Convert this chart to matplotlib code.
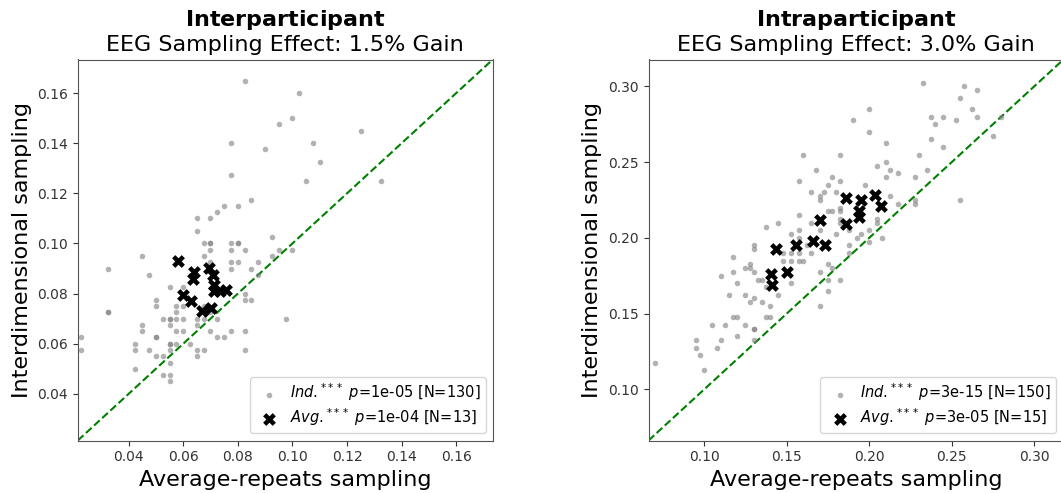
import numpy as np
import matplotlib
matplotlib.use("Agg")
import matplotlib.pyplot as plt

# ---- Interparticipant: individual points (avg-repeats x, interdimensional y)
inter_ind_x = [0.0825, 0.1025, 0.1, 0.095, 0.0775, 0.1075, 0.09, 0.11, 0.125, 0.0775, 0.105, 0.1325,
               0.075, 0.08, 0.085, 0.0725, 0.065, 0.07, 0.065, 0.0925,
               0.0675, 0.07, 0.07, 0.0775, 0.08, 0.08,
               0.07, 0.0775, 0.0825, 0.095, 0.1,
               0.045, 0.0675, 0.0925,
               0.07, 0.0775, 0.08, 0.0875,
               0.0325, 0.0775, 0.085,
               0.0475, 0.0875,
               0.055, 0.06,
               0.0825,
               0.05, 0.0825, 0.085,
               0.05, 0.0575, 0.06, 0.0675,
               0.0325, 0.0325, 0.0575, 0.07,
               0.0975, 0.0525, 0.055, 0.055, 0.0575, 0.06, 0.065, 0.0675, 0.0725,
               0.045, 0.055, 0.065,
               0.045, 0.0575, 0.06, 0.07, 0.0775, 0.0825,
               0.0225, 0.05, 0.05, 0.0725, 0.075,
               0.0425, 0.055, 0.055, 0.0575, 0.0625,
               0.0225, 0.0425, 0.0475, 0.055, 0.065, 0.0675, 0.0825,
               0.05, 0.0525, 0.065,
               0.055,
               0.0425,
               0.0525, 0.055,
               0.055]
inter_ind_y = [0.165, 0.16, 0.15, 0.1475, 0.14, 0.14, 0.1375, 0.1325, 0.145, 0.1275, 0.125, 0.125,
               0.115, 0.115, 0.1175, 0.1125, 0.11, 0.11, 0.105, 0.1025,
               0.1, 0.1, 0.1, 0.1, 0.1, 0.1,
               0.0975, 0.0975, 0.0975, 0.0975, 0.0975,
               0.095, 0.095, 0.095,
               0.0925, 0.0925, 0.0925, 0.0925,
               0.09, 0.09, 0.09,
               0.0875, 0.0875,
               0.0825, 0.0825,
               0.08,
               0.0775, 0.0775, 0.0775,
               0.075, 0.075, 0.075, 0.075,
               0.0725, 0.0725, 0.0725, 0.0725,
               0.07, 0.07, 0.07, 0.07, 0.07, 0.07, 0.07, 0.07, 0.07,
               0.0675, 0.0675, 0.0675,
               0.065, 0.065, 0.065, 0.065, 0.065, 0.065,
               0.0625, 0.0625, 0.0625, 0.0625, 0.0625,
               0.06, 0.06, 0.06, 0.06, 0.06,
               0.0575, 0.0575, 0.0575, 0.0575, 0.0575, 0.0575, 0.0575,
               0.055, 0.055, 0.055,
               0.0525,
               0.05,
               0.0475, 0.0475,
               0.045]
inter_avg_x = [0.0581, 0.0639, 0.0636, 0.0694, 0.0708, 0.0712, 0.0714, 0.0734, 0.0758, 0.0599, 0.063, 0.0669, 0.0703]
inter_avg_y = [0.0929, 0.0887, 0.086, 0.0903, 0.0876, 0.0836, 0.081, 0.081, 0.0816, 0.0796, 0.0772, 0.073, 0.0743]

# ---- Intraparticipant
intra_ind_x = [0.2325, 0.2575, 0.265, 0.255, 0.2, 0.2625, 0.19, 0.2375, 0.245, 0.24, 0.2525, 0.265, 0.28,
               0.2, 0.2375, 0.245, 0.275, 0.21, 0.16, 0.1825, 0.23, 0.1675, 0.21, 0.205, 0.2125, 0.2175,
               0.235, 0.1575, 0.1775, 0.1825, 0.21, 0.2275, 0.175, 0.1975, 0.165, 0.17, 0.17, 0.1725,
               0.18, 0.2125, 0.2175, 0.2275, 0.2275, 0.255, 0.1575, 0.175, 0.1775, 0.205,
               0.1825, 0.1825, 0.1825, 0.1825, 0.1375, 0.145, 0.165, 0.1575, 0.1525, 0.1575, 0.1875,
               0.18, 0.17, 0.1925, 0.195, 0.2, 0.2, 0.205, 0.2075, 0.1875, 0.1875, 0.1625,
               0.13, 0.13, 0.1475, 0.1525, 0.1575, 0.165, 0.16, 0.1575, 0.1525, 0.1475, 0.1175, 0.11,
               0.1175, 0.125, 0.1275, 0.1275, 0.13, 0.12, 0.115, 0.125, 0.1275, 0.13, 0.135, 0.1325,
               0.135, 0.1375, 0.14, 0.1375, 0.14, 0.145, 0.1525, 0.13, 0.13, 0.13, 0.1175, 0.12, 0.125,
               0.105, 0.1125, 0.12, 0.11, 0.1075, 0.095, 0.095, 0.0975, 0.1, 0.07,
               0.17, 0.175, 0.175, 0.17, 0.1825, 0.175, 0.1775]
intra_ind_y = [0.3025, 0.3, 0.2975, 0.2925, 0.285, 0.285, 0.2775, 0.28, 0.28, 0.275, 0.2775, 0.28, 0.28,
               0.27, 0.265, 0.26, 0.2675, 0.2625, 0.255, 0.255, 0.255, 0.245, 0.25, 0.2475, 0.245, 0.2425,
               0.245, 0.2375, 0.24, 0.2375, 0.24, 0.24, 0.235, 0.235, 0.23, 0.2275, 0.225, 0.23,
               0.23, 0.2275, 0.2225, 0.225, 0.2225, 0.225, 0.215, 0.2175, 0.2175, 0.2125,
               0.22, 0.2175, 0.2125, 0.21, 0.2075, 0.21, 0.21, 0.205, 0.2025, 0.2, 0.205,
               0.2025, 0.205, 0.2, 0.2025, 0.205, 0.1975, 0.21, 0.2, 0.195, 0.19, 0.195,
               0.195, 0.1925, 0.19, 0.19, 0.19, 0.19, 0.185, 0.185, 0.185, 0.185, 0.1875, 0.175,
               0.1775, 0.18, 0.18, 0.1825, 0.1775, 0.17, 0.1625, 0.1625, 0.1575, 0.16, 0.1575, 0.1725,
               0.1725, 0.1675, 0.155, 0.1475, 0.1475, 0.1625, 0.17, 0.14, 0.14, 0.1325, 0.1475, 0.1475, 0.1425,
               0.1425, 0.1425, 0.135, 0.1325, 0.1275, 0.1325, 0.1275, 0.1225, 0.1125, 0.1175,
               0.1775, 0.1725, 0.165, 0.155, 0.1725, 0.1825, 0.18]
intra_avg_x = [0.1858, 0.1949, 0.2033, 0.2074, 0.1938, 0.1938, 0.1704, 0.1858, 0.166, 0.173,
               0.1434, 0.1559, 0.1403, 0.1414, 0.1502]
intra_avg_y = [0.226, 0.2249, 0.2286, 0.2212, 0.2176, 0.2139, 0.2117, 0.2094, 0.1977, 0.1951,
               0.1928, 0.1955, 0.1763, 0.169, 0.1774]

panels = [
    ("Interparticipant", "1.5", inter_ind_x, inter_ind_y, inter_avg_x, inter_avg_y,
     "1e-05", 130, "1e-04", 13, (0.0214, 0.1734), [0.04, 0.06, 0.08, 0.10, 0.12, 0.14, 0.16]),
    ("Intraparticipant", "3.0", intra_ind_x, intra_ind_y, intra_avg_x, intra_avg_y,
     "3e-15", 150, "3e-05", 15, (0.0663, 0.3177), [0.10, 0.15, 0.20, 0.25, 0.30]),
]

fig = plt.figure(figsize=(10.61, 4.93), dpi=100)
lefts = [77.8 / 1061, 648.5 / 1061]

for left, (name, gain, ix, iy, ax_, ay_, p_ind, n_ind, p_avg, n_avg, lims, ticks) in zip(lefts, panels):
    ax = fig.add_axes([left, 52.5 / 493, 415.0 / 1061, 381.0 / 493])
    ax.plot(lims, lims, "g--", lw=1.5, zorder=1)
    ax.scatter(ix, iy, s=16, color="gray", alpha=0.6, linewidths=0, zorder=2,
               label=r"$\it{Ind.}^{***}$ $\it{p}$=%s [N=%d]" % (p_ind, n_ind))
    ax.scatter(ax_, ay_, s=85, color="black", marker="X", linewidths=0, zorder=3,
               label=r"$\it{Avg.}^{***}$ $\it{p}$=%s [N=%d]" % (p_avg, n_avg))
    ax.set_xlim(lims)
    ax.set_ylim(lims)
    ax.set_xticks(ticks)
    ax.set_yticks(ticks)
    ax.set_xticklabels(["%.2f" % t for t in ticks])
    ax.set_yticklabels(["%.2f" % t for t in ticks])
    ax.tick_params(labelsize=10, colors="#333333")
    for sp in ax.spines.values():
        sp.set_color("#555555")
    ax.set_xlabel("Average-repeats sampling", fontsize=16)
    ax.set_ylabel("Interdimensional sampling", fontsize=16)
    ax.set_title(r"$\bf{%s}$" % name + "\nEEG Sampling Effect: %s%% Gain" % gain, fontsize=16, pad=6)
    ax.legend(loc="lower right", fontsize=10.5, labelspacing=0.2, handletextpad=0.4,
              borderpad=0.35)

fig.savefig("out.png", dpi=100)
